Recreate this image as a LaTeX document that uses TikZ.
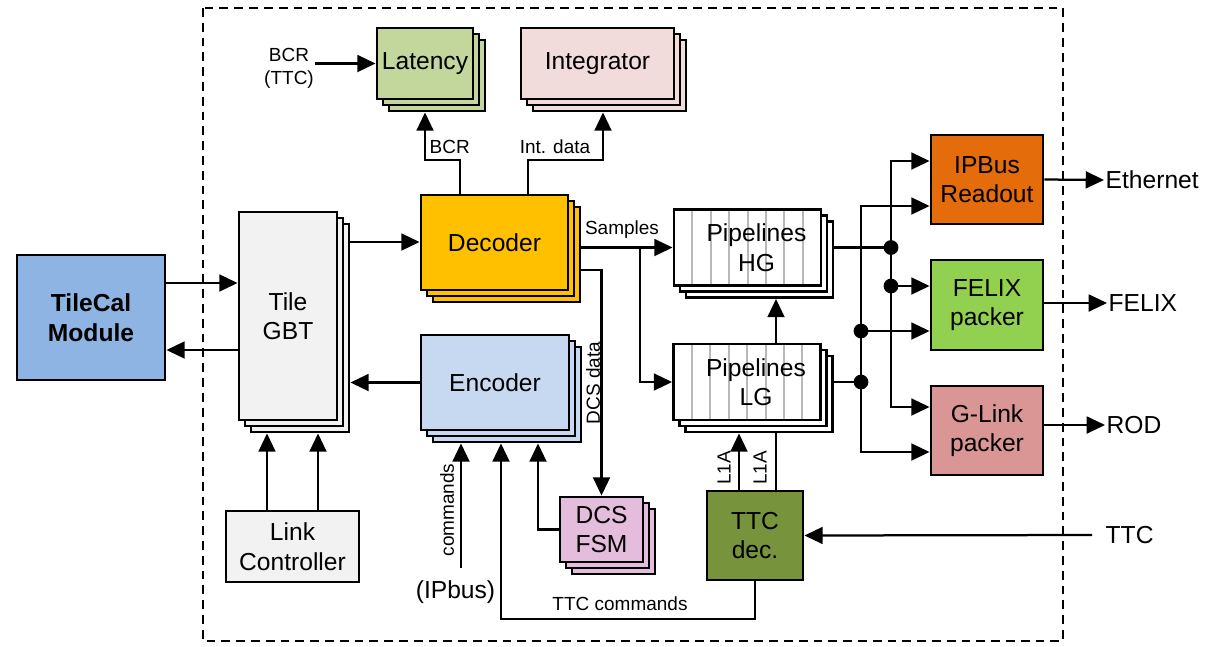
\documentclass[tikz,border=0pt]{standalone}
\usepackage{fontspec}
\setmainfont{Liberation Sans}
\usetikzlibrary{arrows.meta,shadows,backgrounds}

\definecolor{modblue}{HTML}{8DB4E2}
\definecolor{gbtgray}{HTML}{F2F2F2}
\definecolor{latgreen}{HTML}{C3D69B}
\definecolor{intpink}{HTML}{F2DCDB}
\definecolor{decgold}{HTML}{FFC000}
\definecolor{encblue}{HTML}{C6D9F1}
\definecolor{dcspink}{HTML}{E4BCDC}
\definecolor{ttcgreen}{HTML}{77933C}
\definecolor{ipborange}{HTML}{E46C0A}
\definecolor{felixgreen}{HTML}{92D050}
\definecolor{glinkred}{HTML}{DA9694}

\newcommand{\boxfont}{\fontsize{17.5}{21}\selectfont}
\newcommand{\wirefont}{\fontsize{13.5}{16.5}\selectfont}

\tikzset{
  blk/.style={draw, line width=2pt, inner sep=0pt, align=center, font=\boxfont},
  stack/.style={fill=#1,
    copy shadow={shadow xshift=0.3cm, shadow yshift=-0.3cm, fill=#1, draw=black, line width=2pt},
    copy shadow={shadow xshift=0.15cm, shadow yshift=-0.15cm, fill=#1, draw=black, line width=2pt}},
  pipe/.style={blk, stack=white, minimum width=3.675cm, minimum height=1.9cm,
    path picture={
      \foreach \k in {1,...,7}
        \draw[black!28, line width=1.4pt]
          ([xshift=\k*0.46cm]path picture bounding box.north west) --
          ([xshift=\k*0.46cm]path picture bounding box.south west);}},
  wire/.style={line width=1.6pt},
  arr/.style={wire, -{Triangle[length=13pt,width=12pt]}},
  lbl/.style={font=\wirefont, inner sep=1pt, align=center},
  jn/.style={circle, fill, inner sep=0pt, minimum size=0.37cm},
  frame/.style={line width=1.6pt, dash pattern=on 0.22cm off 0.15cm},
}

\begin{document}
\begin{tikzpicture}[x=0.025cm, y=-0.025cm]
  \useasboundingbox (0,0) rectangle (1208,646);
  \draw[frame] (203,8) rectangle (1063,641);

  % blocks
  \node[blk, fill=modblue, minimum width=3.7cm, minimum height=3.125cm,
        font=\boxfont\bfseries] (tilecal) at (91,317.5) {TileCal\\Module};
  \node[blk, stack=gbtgray, minimum width=2.45cm, minimum height=5.2cm] (gbt) at (288,316) {Tile\\GBT};
  \node[blk, fill=gbtgray, minimum width=3.325cm, minimum height=1.775cm] (link) at (292.5,546.5) {Link\\Controller};
  \node[blk, stack=latgreen, minimum width=2.4cm, minimum height=1.775cm] (latency) at (425,63.5) {Latency};
  \node[blk, stack=intpink, minimum width=3.825cm, minimum height=1.775cm] (integ) at (597.5,63.5) {Integrator};
  \node[blk, stack=decgold, minimum width=3.675cm, minimum height=2.375cm] (decoder) at (494.5,242.5) {Decoder};
  \node[blk, stack=encblue, minimum width=3.7cm, minimum height=2.375cm] (encoder) at (495,382.5) {Encoder};
  \node[blk, stack=dcspink, minimum width=2.075cm, minimum height=1.625cm] (dcs) at (601.5,529.5) {DCS\\FSM};
  \node[blk, fill=ttcgreen, minimum width=2.4cm, minimum height=2.225cm] (ttcdec) at (755,535.5) {TTC\\dec.};
  \node[pipe] (hg) at (747.5,247.5) {\hspace*{0.45cm}Pipelines\\\hspace*{0.45cm}HG};
  \node[pipe] (lg) at (747,382) {\hspace*{0.45cm}Pipelines\\\hspace*{0.45cm}LG};
  \node[blk, fill=ipborange, minimum width=2.8cm, minimum height=2.225cm] (ipbus) at (987,179.5) {IPBus\\Readout};
  \node[blk, fill=felixgreen, minimum width=2.8cm, minimum height=2.25cm] (felix) at (987,305) {FELIX\\packer};
  \node[blk, fill=glinkred, minimum width=2.8cm, minimum height=2.225cm] (glink) at (987,430.5) {G-Link\\packer};

  % back corners of the stacked blocks
  \coordinate (gbtbk) at ([shift={(0.3cm,-0.3cm)}]gbt.south east);
  \coordinate (latbk) at ([shift={(0.3cm,-0.3cm)}]latency.south east);
  \coordinate (intbk) at ([shift={(0.3cm,-0.3cm)}]integ.south east);
  \coordinate (encbk) at ([shift={(0.3cm,-0.3cm)}]encoder.south east);
  \coordinate (hgbk) at ([shift={(0.3cm,-0.3cm)}]hg.south east);
  \coordinate (lgbk) at ([shift={(0.3cm,-0.3cm)}]lg.south east);

  % signal names
  \node[lbl] (bcrin) at (289,68) {BCR\\(TTC)};
  \node[lbl, anchor=west] (bcrlbl) at (428,147) {BCR};
  \node[lbl] (intlbl) at (555,147) {Int. data};
  \node[lbl] (smplbl) at (622,230) {Samples};
  \node[lbl, rotate=90] (dcslbl) at (593,383) {DCS data};
  \node[lbl, rotate=90] (cmdlbl) at (447,510) {commands};
  \node[lbl, font=\boxfont] (ipblbl) at (455.5,592) {(IPbus)};
  \node[lbl] (ttccmd) at (620,604) {TTC commands};
  \node[lbl, rotate=90] (l1alg) at (724,468) {L1A};
  \node[lbl, rotate=90] (l1ahg) at (760,468) {L1A};
  \node[lbl, font=\boxfont, anchor=west] (eth) at (1104,180) {Ethernet};
  \node[lbl, font=\boxfont, anchor=west] (flx) at (1107,303) {FELIX};
  \node[lbl, font=\boxfont, anchor=west] (rod) at (1105,425) {ROD};
  \node[lbl, font=\boxfont, anchor=west] (ttcin) at (1104,535) {TTC};

  \coordinate (split) at (640,247.5);
  \coordinate (cmdsrc) at (461,568);
  \coordinate (ttcsrc) at (1092,535);

  % bus junctions
  \node[jn] (hgj) at (891,247.5) {};
  \node[jn] (flj) at (891,286) {};
  \node[jn] (lgj) at (861,382) {};
  \node[jn] (fl2j) at (861,331) {};

  \begin{scope}[on background layer]
    \draw[arr] (tilecal.east|-0,283) -- (gbt.west|-0,283);
    \draw[arr] (gbt.west|-0,350) -- (tilecal.east|-0,350);
    \draw[arr] (gbt.east|-0,242) -- (decoder.west|-0,242);
    \draw[arr] (encoder.west) -- (gbtbk|-encoder.west);
    \draw[arr] (link.north-|267,0) -- (gbtbk-|267,0);
    \draw[arr] (link.north-|318,0) -- (gbtbk-|318,0);

    \draw[arr] (bcrin.east|-latency.west) -- (latency.west);
    \draw[arr] (decoder.north-|460,0) |- (425,160) -- (latbk-|425,0);
    \draw[arr] (decoder.north-|528,0) |- (603,160) -- (intbk-|603,0);

    \draw[arr] (decoder.east|-hg.west) -- (hg.west);
    \draw[arr] (split) |- (lg.west);
    \draw[arr] (decoder.east|-0,270) -| (dcs.north);

    \draw[arr] (ttcdec.south) |- (501,619) -- (encbk-|501,0);
    \draw[arr] (cmdsrc) -- (encbk-|cmdsrc);
    \draw[arr] (dcs.west) -| (encbk-|538,0);

    \draw[arr] (ttcdec.north-|739,0) -- (lgbk-|739,0);
    \draw[arr] (ttcdec.north-|776,0) -- (hgbk-|776,0);
    \draw[arr] (ttcsrc) -- (ttcdec.east);

    \draw[wire] (hg.east) -- (hgj.center);
    \draw[wire] (lg.east) -- (lgj.center);
    \draw[arr] (hgj.center) |- (ipbus.west|-0,161);
    \draw[arr] (hgj.center) |- (glink.west|-0,407);
    \draw[arr] (flj.center) -- (felix.west|-flj);
    \draw[arr] (lgj.center) |- (ipbus.west|-0,206);
    \draw[arr] (lgj.center) |- (glink.west|-0,452);
    \draw[arr] (fl2j.center) -- (felix.west|-fl2j);

    \draw[arr] (ipbus.east) -- (eth.west);
    \draw[arr] (felix.east|-flx.west) -- (flx.west);
    \draw[arr] (glink.east|-rod.west) -- (rod.west);
  \end{scope}
\end{tikzpicture}
\end{document}
